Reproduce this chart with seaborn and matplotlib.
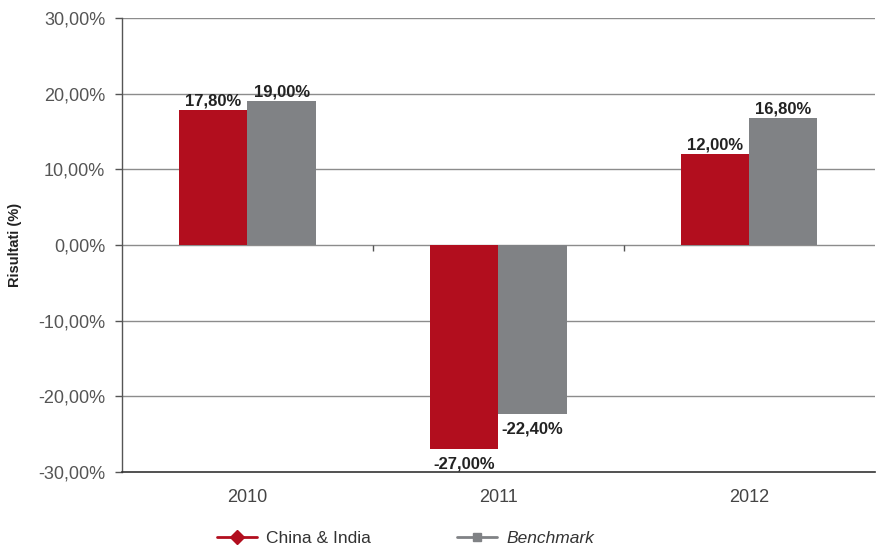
import pandas as pd
import numpy as np
import matplotlib
matplotlib.use('Agg')
import matplotlib.pyplot as plt
from matplotlib.lines import Line2D
import seaborn as sns

years = ['2010', '2011', '2012']
china_india = [17.80, -27.00, 12.00]
benchmark = [19.00, -22.40, 16.80]
series_names = ['China & India', 'Benchmark']
y_ticks = [-30, -20, -10, 0, 10, 20, 30]

red = '#B20E1E'
gray = '#808285'

df = pd.DataFrame({
    'anno': years * 2,
    'serie': [series_names[0]] * 3 + [series_names[1]] * 3,
    'valore': china_india + benchmark,
})

sns.set_style('white')
plt.rcParams['font.family'] = ['Liberation Sans', 'DejaVu Sans']

fig = plt.figure(figsize=(8.76, 5.49), dpi=100)
ax = fig.add_axes([0.1393, 0.1403, 0.859, 0.8269])

sns.barplot(data=df, x='anno', y='valore', hue='serie', palette=[red, gray],
            width=0.545, saturation=1, ax=ax, legend=False, zorder=3, linewidth=0)

# grid and axes
ax.set_ylim(-30, 30)
ax.set_xlim(-0.5, 2.5)
ax.set_yticks(y_ticks)
ax.set_yticklabels([f'{t:.2f}'.replace('.', ',') + '%' for t in y_ticks],
                   fontsize=13, color='#555555')
ax.tick_params(axis='x', labelsize=13, labelcolor='#444444', length=0, pad=12)
ax.tick_params(axis='y', length=5, width=1, color='#555555', direction='out', left=True, pad=7)
for t in y_ticks:
    if t != -30:
        ax.axhline(t, color='#8c8c8c', lw=1, zorder=1)
ax.vlines([0.5, 1.5], -0.8, 0, color='#555555', lw=1, zorder=4)

for s in ['top', 'right']:
    ax.spines[s].set_visible(False)
ax.spines['left'].set_color('#555555')
ax.spines['bottom'].set_color('#333333')
ax.spines['left'].set_linewidth(1)
ax.spines['bottom'].set_linewidth(1.2)

ax.set_xlabel('')
ax.set_ylabel('Risultati (%)', fontsize=10.5, fontweight='bold', color='#222222', labelpad=12)

# value labels
for container in ax.containers:
    for bar in container:
        v = bar.get_height()
        x = bar.get_x() + bar.get_width() / 2
        txt = f'{v:.2f}'.replace('.', ',') + '%'
        if v >= 0:
            ax.annotate(txt, (x, v), xytext=(0, 1), textcoords='offset points',
                        ha='center', va='bottom', fontsize=12, fontweight='bold', color='#222222')
        else:
            ax.annotate(txt, (x, v), xytext=(0, -5), textcoords='offset points',
                        ha='center', va='top', fontsize=12, fontweight='bold', color='#222222')

# legend
handles = [
    Line2D([0], [0], color=red, lw=2, marker='D', markersize=7),
    Line2D([0], [0], color=gray, lw=2, marker='s', markersize=6),
]
leg = fig.legend(handles, series_names, loc='center', bbox_to_anchor=(0.463, 0.02),
                 ncol=2, frameon=False, fontsize=12.5, columnspacing=5.0,
                 handlelength=2.3, handletextpad=0.5)
for text in leg.get_texts():
    text.set_color('#333333')
leg.get_texts()[1].set_fontstyle('italic')

fig.savefig('out.png', dpi=100)
